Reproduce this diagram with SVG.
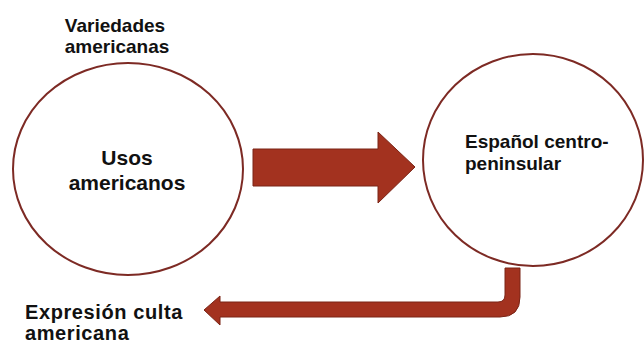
<svg xmlns="http://www.w3.org/2000/svg" width="644" height="344" viewBox="0 0 644 344">
<style>
.node{fill:#ffffff;stroke:#7d2a24;stroke-width:2}
.arrow{fill:#a3321f;stroke:#7a2416;stroke-width:1}
.t{font-family:"Liberation Sans",Arial,sans-serif;font-weight:bold;fill:#111111}
</style>
<rect width="644" height="344" fill="#ffffff"/>
<g id="label-variedades">
<text class="t" font-size="19" text-anchor="middle"><tspan x="115" y="32">Variedades</tspan><tspan x="117" y="53">americanas</tspan></text>
</g>
<g id="node-usos">
<ellipse class="node" cx="128" cy="169" rx="115" ry="106"/>
<text class="t" font-size="21" text-anchor="middle"><tspan x="127" y="165">Usos</tspan><tspan x="127" y="190">americanos</tspan></text>
</g>
<g id="node-espanol">
<ellipse class="node" cx="533" cy="160" rx="110" ry="106"/>
<text class="t" font-size="19"><tspan x="465" y="148">Español centro-</tspan><tspan x="465" y="170">peninsular</tspan></text>
</g>
<g id="label-expresion">
<text class="t" font-size="20" letter-spacing="0.6"><tspan x="25" y="319">Expresión culta</tspan><tspan x="25" y="340">americana</tspan></text>
</g>
<g id="connectors">
<path class="arrow" d="M253,149 H378 V132 L415,167 L378,203 V186 H253 Z"/>
<path class="arrow" d="M505,268 H520 V297 Q520,317 500,317 H220 V325 L204,310 L220,296 V302 H498 Q505,302 505,295 Z"/>
</g>
</svg>
